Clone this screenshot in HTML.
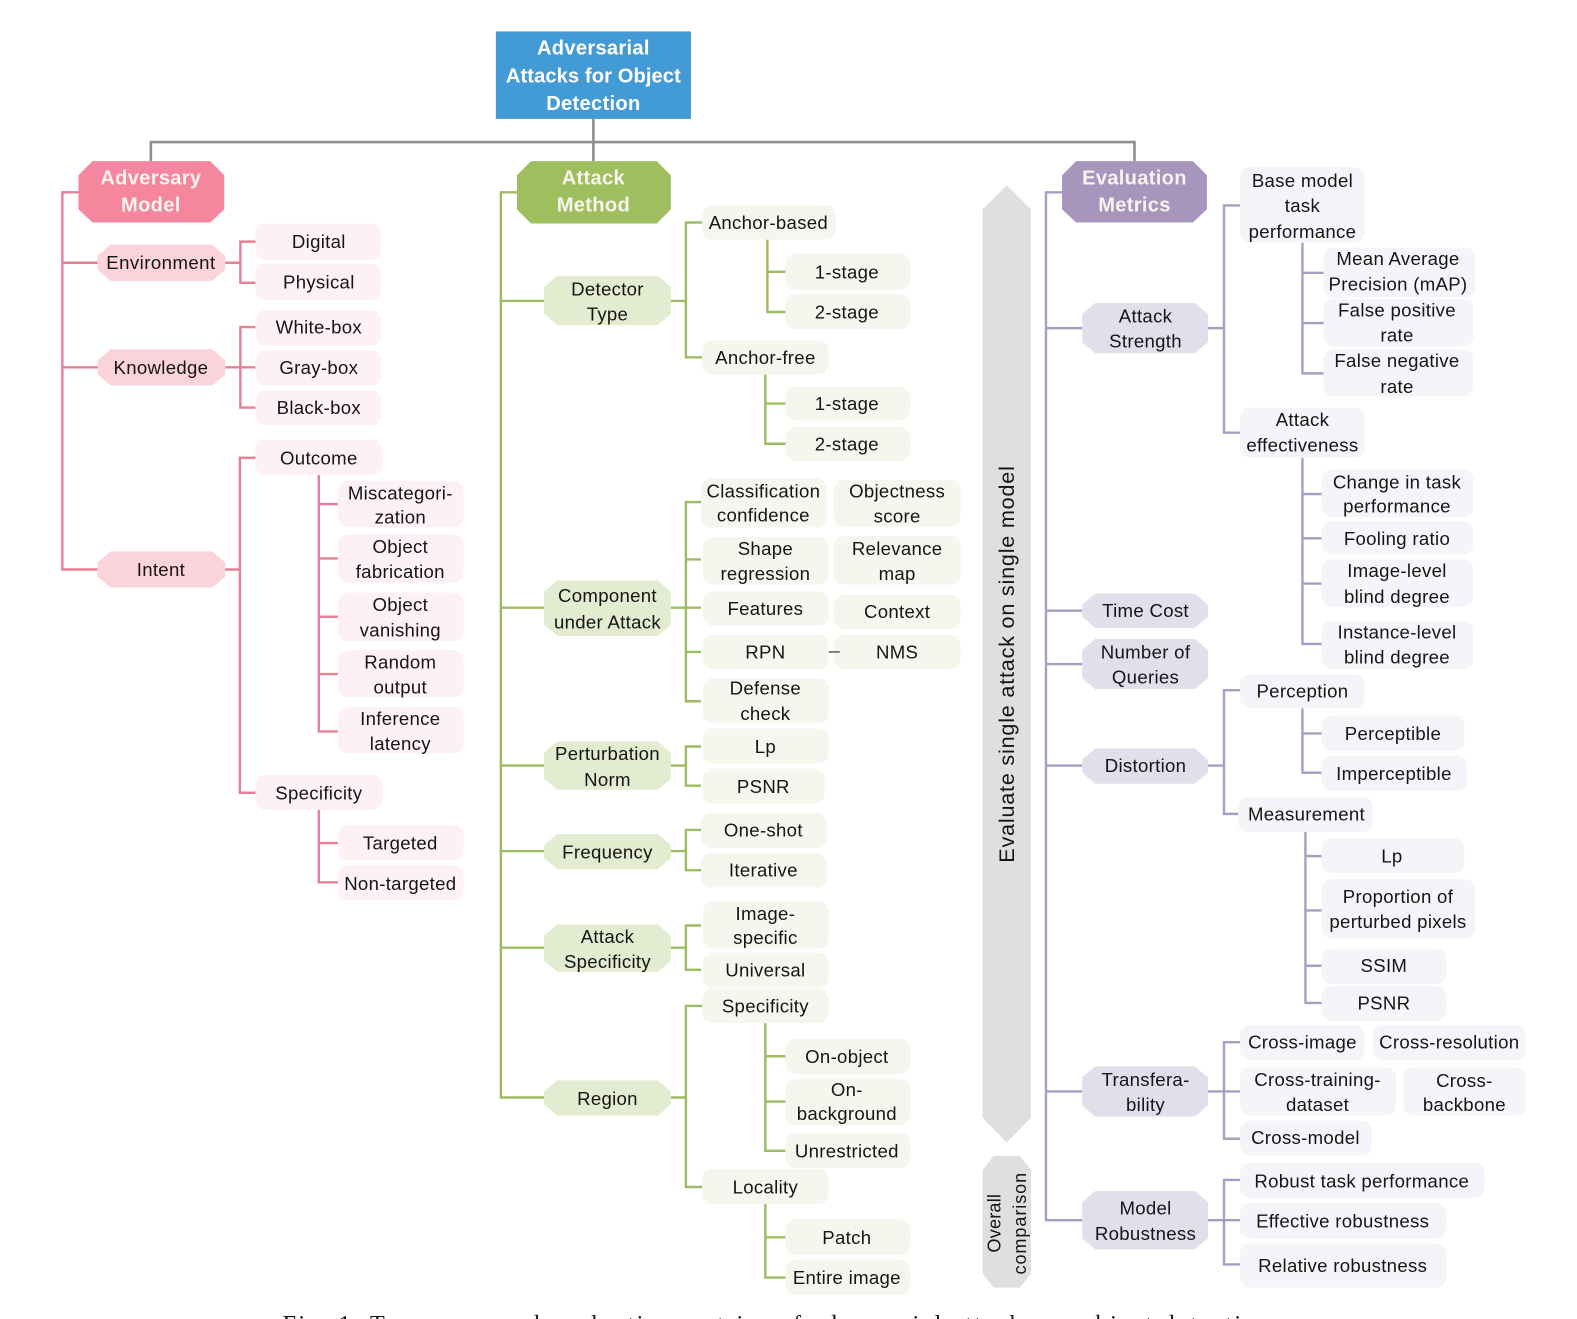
<!DOCTYPE html>
<html><head><meta charset="utf-8"><style>
html,body{margin:0;padding:0;background:#fff;overflow:hidden;width:1577px;height:1319px}
svg{display:block}
text{font-family:"Liberation Sans",sans-serif;font-size:18.5px;letter-spacing:.3px;text-anchor:middle;dominant-baseline:central;fill:#151515}
text.w{fill:#fff;font-weight:bold;font-size:20px;letter-spacing:.3px}
text.e{fill:#f7f3ee}
.c{fill:none;stroke-width:2.4}
.p{stroke:#e67f98}.g{stroke:#9fbb62}.v{stroke:#a99dc1}
.lp{fill:#fef1f3}.lg{fill:#f4f7ee}.lv{fill:#f5f4f9}
.np{fill:#fad3db}.ng{fill:#e3ebd0}.nv{fill:#e2deeb}
</style></head><body>
<svg xmlns="http://www.w3.org/2000/svg" width="1577" height="1319" viewBox="0 0 1568 1311">
<rect width="1568" height="1311" fill="#fff"/>
<!-- root -->
<path d="M590 118V160M150 160V141H1128V160" fill="none" stroke="#8f8f8f" stroke-width="2.6"/>
<rect x="493" y="31" width="194" height="87" fill="#439bd5"/>
<text class="w" x="590" y="48">Adversarial</text>
<text class="w" x="590" y="76" style="letter-spacing:.1px">Attacks for Object</text>
<text class="w" x="590" y="103">Detection</text>

<!-- connectors -->
<path class="c p" d="M78 191H62V566H97M62 261H97M62 365H97M224 261H239M254 240H239V281H254M224 365H254M254 325H239V405H254M224 566H238.500M255 455H238.500V788H255M317 472V727H336M317 501H336M317 555H336M317 613H336M317 670H336M317 805V877H336M317 838H336"/>
<path class="c g" d="M514 191H498V1091H541M498 299H541M498 604H541M498 761H541M498 846H541M498 942H541M667 299H682M698 221H682V355H698M763 238V310H781M763 270H781M761 372V441H781M761 401H781M667 604H697M697 499H682V697H697M682 556H697M682 648H697M667 761H682M697 742H682V781H697M667 846H682M697 825H682V865H697M667 942H682M697 920H682V964H697M667 1091H682M698 1000H682V1180H698M761 1017V1144H781M761 1050H781M761 1095H781M761 1197V1270H781M761 1230H781"/>
<path class="c v" d="M1056 191H1040V1213H1076M1040 326H1076M1040 607H1076M1040 660H1076M1040 761H1076M1040 1085H1076M1201 326H1217M1233 204H1217V430H1233M1295 241V371H1316M1295 271H1316M1295 321H1316M1295 455V640H1314M1295 491H1314M1295 535H1314M1295 580H1314M1201 761H1217M1233 686H1217V809H1233M1295 704V768H1314M1295 729H1314M1298 827V997H1314M1298 851H1314M1298 905H1314M1298 960H1314M1201 1085H1233M1233 1036H1217V1132H1233M1201 1213H1233M1233 1173H1217V1257H1233"/>

<!-- main octagons -->
<polygon fill="#f4879d" points="92,160 209,160 223,174 223,208 209,221 92,221 78,208 78,174"/>
<text class="w e" x="150" y="177">Adversary</text><text class="w e" x="150" y="204">Model</text>
<polygon fill="#9fbf5f" points="528,160 653,160 667,174 667,208 653,222 528,222 514,208 514,174"/>
<text class="w e" x="590" y="177">Attack</text><text class="w e" x="590" y="204">Method</text>
<polygon fill="#a795bc" points="1070,160 1186,160 1200,174 1200,208 1186,221 1070,221 1056,208 1056,174"/>
<text class="w e" x="1128" y="177">Evaluation</text><text class="w e" x="1128" y="204">Metrics</text>

<!-- left nodes -->
<polygon class="np" points="110,243 211,243 224,254 224,268 211,279 110,279 97,268 97,254"/>
<text x="160" y="261" style="letter-spacing:.45px">Environment</text>
<polygon class="np" points="110,347 211,347 224,358 224,372 211,383 110,383 97,372 97,358"/>
<text x="160" y="365">Knowledge</text>
<polygon class="np" points="110,548 211,548 224,559 224,573 211,584 110,584 97,573 97,559"/>
<text x="160" y="566">Intent</text>
<g class="lp">
<rect x="254" y="222" width="125" height="36" rx="10"/><rect x="254" y="262" width="125" height="36" rx="10"/>
<rect x="254" y="308" width="125" height="35" rx="10"/><rect x="254" y="348" width="125" height="35" rx="10"/><rect x="254" y="388" width="125" height="35" rx="10"/>
<rect x="254" y="437" width="126" height="35" rx="10"/><rect x="254" y="770" width="126" height="35" rx="10"/>
<rect x="336" y="478" width="125" height="46" rx="10"/><rect x="336" y="531" width="125" height="48" rx="10"/><rect x="336" y="589" width="125" height="48" rx="10"/><rect x="336" y="646" width="125" height="47" rx="10"/><rect x="336" y="703" width="125" height="46" rx="10"/>
<rect x="336" y="820" width="125" height="35" rx="10"/><rect x="336" y="860" width="125" height="35" rx="10"/>
</g>
<text x="317" y="240">Digital</text><text x="317" y="280">Physical</text>
<text x="317" y="325">White-box</text><text x="317" y="365">Gray-box</text><text x="317" y="405">Black-box</text>
<text x="317" y="455">Outcome</text><text x="317" y="788">Specificity</text>
<text x="398" y="490">Miscategori-</text><text x="398" y="514">zation</text>
<text x="398" y="543">Object</text><text x="398" y="568">fabrication</text>
<text x="398" y="601">Object</text><text x="398" y="626">vanishing</text>
<text x="398" y="658">Random</text><text x="398" y="683">output</text>
<text x="398" y="714">Inference</text><text x="398" y="739">latency</text>
<text x="398" y="838">Targeted</text><text x="398" y="878">Non-targeted</text>

<!-- middle nodes -->
<polygon class="ng" points="554,274 654,274 667,285 667,312 654,323 554,323 541,312 541,285"/>
<text x="604" y="287">Detector</text><text x="604" y="312">Type</text>
<polygon class="ng" points="554,577 654,577 667,588 667,621 654,632 554,632 541,621 541,588"/>
<text x="604" y="592">Component</text><text x="604" y="618">under Attack</text>
<polygon class="ng" points="554,737 654,737 667,748 667,774 654,785 554,785 541,774 541,748"/>
<text x="604" y="749">Perturbation</text><text x="604" y="775">Norm</text>
<polygon class="ng" points="554,829 654,829 667,840 667,853 654,864 554,864 541,853 541,840"/>
<text x="604" y="847">Frequency</text>
<polygon class="ng" points="554,919 654,919 667,930 667,955 654,966 554,966 541,955 541,930"/>
<text x="604" y="931">Attack</text><text x="604" y="956">Specificity</text>
<polygon class="ng" points="554,1074 654,1074 667,1085 667,1098 654,1109 554,1109 541,1098 541,1085"/>
<text x="604" y="1092">Region</text>
<g class="lg">
<rect x="698" y="204" width="133" height="34" rx="10"/><rect x="698" y="338" width="126" height="34" rx="10"/>
<rect x="781" y="252" width="124" height="36" rx="10"/><rect x="781" y="292" width="124" height="35" rx="10"/>
<rect x="781" y="384" width="124" height="34" rx="10"/><rect x="781" y="424" width="124" height="34" rx="10"/>
<rect x="697" y="475" width="125" height="49" rx="10"/><rect x="829" y="477" width="126" height="46" rx="10"/>
<rect x="699" y="534" width="125" height="47" rx="10"/><rect x="829" y="533" width="126" height="48" rx="10"/>
<rect x="699" y="588" width="125" height="34" rx="10"/><rect x="829" y="591" width="126" height="34" rx="10"/>
<rect x="699" y="631" width="125" height="34" rx="10"/><rect x="829" y="631" width="126" height="34" rx="10"/>
<rect x="699" y="674" width="125" height="45" rx="10"/>
<rect x="699" y="724" width="125" height="35" rx="10"/><rect x="699" y="764" width="121" height="35" rx="10"/>
<rect x="697" y="808" width="125" height="35" rx="10"/><rect x="697" y="848" width="125" height="34" rx="10"/>
<rect x="699" y="896" width="125" height="47" rx="10"/><rect x="699" y="947" width="125" height="35" rx="10"/>
<rect x="698" y="983" width="126" height="34" rx="10"/><rect x="698" y="1162" width="126" height="35" rx="10"/>
<rect x="781" y="1033" width="124" height="35" rx="10"/><rect x="781" y="1072" width="124" height="47" rx="10"/><rect x="781" y="1126" width="124" height="35" rx="10"/>
<rect x="781" y="1212" width="124" height="35" rx="10"/><rect x="781" y="1252" width="124" height="35" rx="10"/>
</g>
<path d="M824 648H835" stroke="#333" stroke-width="1.2"/>
<text x="764" y="221">Anchor-based</text><text x="761" y="355">Anchor-free</text>
<text x="842" y="270">1-stage</text><text x="842" y="310">2-stage</text><text x="842" y="401">1-stage</text><text x="842" y="441">2-stage</text>
<text x="759" y="488">Classification</text><text x="759" y="512">confidence</text>
<text x="892" y="488">Objectness</text><text x="892" y="513">score</text>
<text x="761" y="545">Shape</text><text x="761" y="570">regression</text>
<text x="892" y="545">Relevance</text><text x="892" y="570">map</text>
<text x="761" y="605">Features</text><text x="892" y="608">Context</text>
<text x="761" y="648">RPN</text><text x="892" y="648">NMS</text>
<text x="761" y="684">Defense</text><text x="761" y="709">check</text>
<text x="761" y="742">Lp</text><text x="759" y="782">PSNR</text>
<text x="759" y="825">One-shot</text><text x="759" y="865">Iterative</text>
<text x="761" y="908">Image-</text><text x="761" y="932">specific</text><text x="761" y="964">Universal</text>
<text x="761" y="1000">Specificity</text>
<text x="842" y="1050">On-object</text><text x="842" y="1083">On-</text><text x="842" y="1107">background</text><text x="842" y="1144">Unrestricted</text>
<text x="761" y="1180">Locality</text><text x="842" y="1230">Patch</text><text x="842" y="1270">Entire image</text>

<!-- gray arrows -->
<polygon fill="#dfdfdf" points="1001,184 1025,208 1025,1111 1001,1136 977,1111 977,208"/>
<text transform="translate(1001 660) rotate(-90)" x="0" y="0" style="font-size:21.5px;letter-spacing:.78px">Evaluate single attack on single model</text>
<polygon fill="#dfdfdf" points="988,1149 1014,1149 1025,1163 1025,1266 1014,1280 988,1280 977,1266 977,1163"/>
<text transform="translate(989 1216) rotate(-90)" x="0" y="0" style="font-size:18px;letter-spacing:.2px">Overall</text>
<text transform="translate(1014 1216) rotate(-90)" x="0" y="0" style="font-size:18px;letter-spacing:.9px">comparison</text>

<!-- right nodes -->
<polygon class="nv" points="1089,301 1188,301 1201,312 1201,340 1188,351 1089,351 1076,340 1076,312"/>
<text x="1139" y="314">Attack</text><text x="1139" y="339">Strength</text>
<polygon class="nv" points="1089,590 1188,590 1201,601 1201,613 1188,624 1089,624 1076,613 1076,601"/>
<text x="1139" y="607">Time Cost</text>
<polygon class="nv" points="1089,635 1188,635 1201,646 1201,674 1188,685 1089,685 1076,674 1076,646"/>
<text x="1139" y="648">Number of</text><text x="1139" y="673">Queries</text>
<polygon class="nv" points="1089,744 1188,744 1201,755 1201,768 1188,779 1089,779 1076,768 1076,755"/>
<text x="1139" y="761">Distortion</text>
<polygon class="nv" points="1089,1060 1188,1060 1201,1071 1201,1099 1188,1110 1089,1110 1076,1099 1076,1071"/>
<text x="1139" y="1073">Transfera-</text><text x="1139" y="1098">bility</text>
<polygon class="nv" points="1089,1184 1188,1184 1201,1195 1201,1231 1188,1242 1089,1242 1076,1231 1076,1195"/>
<text x="1139" y="1201">Model</text><text x="1139" y="1226">Robustness</text>
<g class="lv">
<rect x="1233" y="166" width="124" height="75" rx="10"/><rect x="1233" y="405" width="124" height="50" rx="10"/>
<rect x="1316" y="246" width="151" height="50" rx="10"/><rect x="1316" y="297" width="149" height="47" rx="10"/><rect x="1316" y="347" width="149" height="47" rx="10"/>
<rect x="1314" y="467" width="151" height="47" rx="10"/><rect x="1314" y="518" width="151" height="33" rx="10"/><rect x="1314" y="556" width="151" height="47" rx="10"/><rect x="1314" y="617" width="151" height="48" rx="10"/>
<rect x="1233" y="670" width="124" height="34" rx="10"/><rect x="1314" y="711" width="142" height="35" rx="10"/><rect x="1314" y="751" width="145" height="35" rx="10"/>
<rect x="1231" y="792" width="134" height="35" rx="10"/><rect x="1314" y="833" width="142" height="35" rx="10"/><rect x="1314" y="874" width="153" height="59" rx="10"/><rect x="1314" y="943" width="124" height="35" rx="10"/><rect x="1314" y="980" width="124" height="35" rx="10"/>
<rect x="1233" y="1019" width="124" height="35" rx="10"/><rect x="1365" y="1019" width="152" height="35" rx="10"/><rect x="1233" y="1061" width="155" height="48" rx="10"/><rect x="1395" y="1061" width="122" height="48" rx="10"/><rect x="1233" y="1114" width="131" height="35" rx="10"/>
<rect x="1233" y="1156" width="243" height="35" rx="10"/><rect x="1233" y="1196" width="205" height="35" rx="10"/><rect x="1233" y="1236" width="205" height="44" rx="10"/>
</g>
<text x="1295" y="179">Base model</text><text x="1295" y="204">task</text><text x="1295" y="230">performance</text>
<text x="1390" y="257">Mean Average</text><text x="1390" y="282">Precision (mAP)</text>
<text x="1389" y="308">False positive</text><text x="1389" y="333">rate</text>
<text x="1389" y="358">False negative</text><text x="1389" y="384">rate</text>
<text x="1295" y="417">Attack</text><text x="1295" y="442">effectiveness</text>
<text x="1389" y="479">Change in task</text><text x="1389" y="503">performance</text>
<text x="1389" y="535">Fooling ratio</text>
<text x="1389" y="567">Image-level</text><text x="1389" y="593">blind degree</text>
<text x="1389" y="628">Instance-level</text><text x="1389" y="653">blind degree</text>
<text x="1295" y="687">Perception</text><text x="1385" y="729">Perceptible</text><text x="1386" y="769">Imperceptible</text>
<text x="1299" y="809">Measurement</text><text x="1384" y="851">Lp</text>
<text x="1390" y="891">Proportion of</text><text x="1390" y="916">perturbed pixels</text>
<text x="1376" y="960">SSIM</text><text x="1376" y="997">PSNR</text>
<text x="1295" y="1036">Cross-image</text><text x="1441" y="1036">Cross-resolution</text>
<text x="1310" y="1073">Cross-training-</text><text x="1310" y="1098">dataset</text>
<text x="1456" y="1074">Cross-</text><text x="1456" y="1098">backbone</text>
<text x="1298" y="1131">Cross-model</text>
<text x="1354" y="1174">Robust task performance</text><text x="1335" y="1214">Effective robustness</text><text x="1335" y="1258">Relative robustness</text>

<!-- caption, clipped by the bottom edge -->
<text x="281" y="1324" textLength="990" style="font-family:'Liberation Serif',serif;font-size:24px;text-anchor:start;dominant-baseline:auto;letter-spacing:0">Fig. 1: Taxonomy and evaluation metrics of adversarial attacks on object detection.</text>
</svg>
</body></html>
